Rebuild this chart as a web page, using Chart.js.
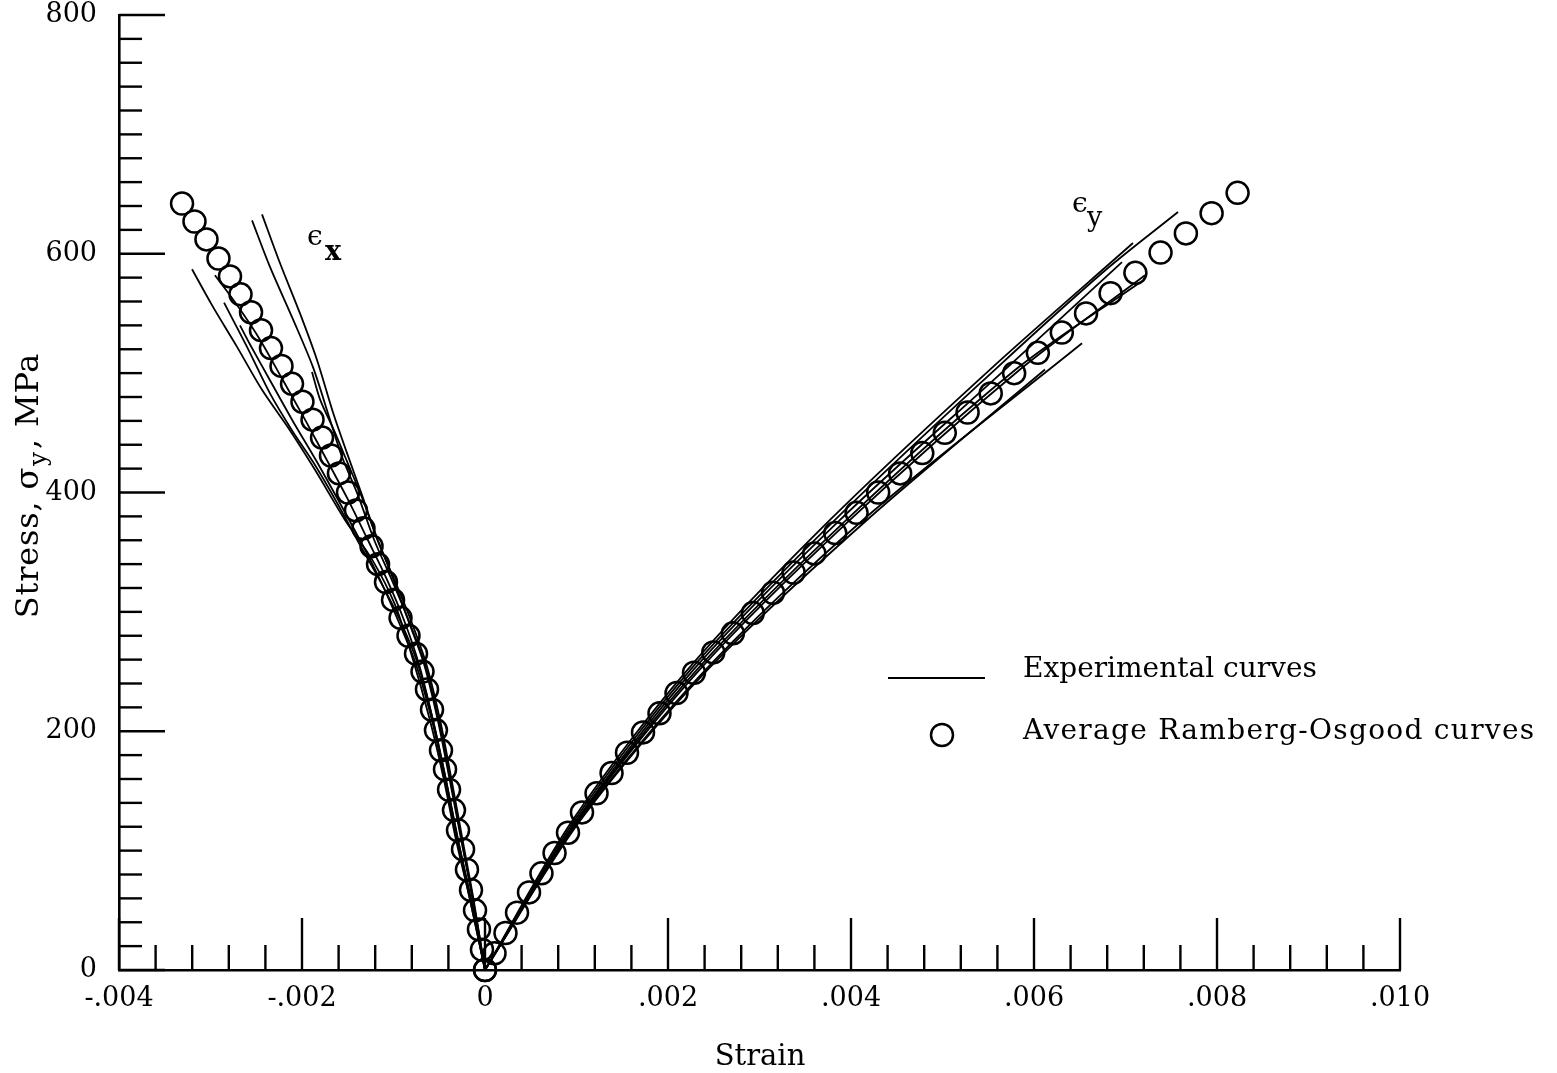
<!DOCTYPE html>
<html>
<head>
<meta charset="utf-8">
<script src="https://cdn.jsdelivr.net/npm/chart.js@4.4.0/dist/chart.umd.min.js"></script>
<style>
  body { margin: 0; background: #fff; }
  #wrap { width: 1557px; height: 1073px; }
</style>
</head>
<body>
<div id="wrap"><canvas id="chart" width="1557" height="1073"></canvas></div>
<script>
// strain is kept in units of 0.001, stress in MPa

// average Ramberg-Osgood curve, eps_x branch (circles)
const roStrainX = [0, -0.033, -0.066, -0.109, -0.153, -0.197, -0.240, -0.295, -0.339, -0.393, -0.437,
  -0.481, -0.536, -0.579, -0.634, -0.683, -0.754, -0.836, -0.923, -1.005, -1.082, -1.169, -1.240,
  -1.328, -1.410, -1.497, -1.596, -1.683, -1.781, -1.885, -1.995, -2.109, -2.224, -2.339, -2.448,
  -2.557, -2.672, -2.787, -2.913, -3.044, -3.175, -3.311];
const roStressX = [0, 17, 34, 50, 67, 84, 101, 117, 134, 151, 168, 184, 201, 218, 235, 250, 265, 280,
  295, 310, 325, 340, 355, 370, 385, 400, 416, 431, 446, 461, 476, 491, 506, 521, 536, 551, 566, 581,
  596, 612, 627, 642];

// average Ramberg-Osgood curve, eps_y branch (circles)
const roStrainY = [0, 0.104, 0.224, 0.350, 0.481, 0.617, 0.760, 0.907, 1.060, 1.219, 1.383, 1.552,
  1.727, 1.907, 2.093, 2.284, 2.495, 2.709, 2.927, 3.148, 3.372, 3.599, 3.828, 4.061, 4.297, 4.537,
  4.779, 5.025, 5.274, 5.527, 5.783, 6.042, 6.304, 6.569, 6.837, 7.108, 7.383, 7.660, 7.941, 8.225];
const roStressY = [0, 14, 31, 48, 65, 81, 98, 115, 132, 148, 165, 182, 199, 215, 232, 249, 266, 282,
  299, 316, 333, 349, 366, 383, 400, 416, 433, 450, 467, 483, 500, 517, 534, 550, 567, 584, 601, 617,
  634, 651];

// experimental curves, eps_x branch
const expStrainX = [
  [0, -0.164, -0.317, -0.448, -0.601, -0.787, -0.984, -1.235, -1.530, -1.858, -2.131, -2.437, -2.710, -2.984, -3.202],
  [0, -0.130, -0.255, -0.375, -0.505, -0.655, -0.835, -1.020, -1.210, -1.390, -1.563, -1.694, -1.880, -2.098, -2.350, -2.546],
  [0, -0.125, -0.245, -0.365, -0.490, -0.640, -0.810, -0.990, -1.175, -1.345, -1.508, -1.661, -1.836, -2.022, -2.240, -2.437],
  [0, -0.153, -0.295, -0.426, -0.568, -0.732, -0.929, -1.126, -1.366, -1.607, -1.858, -2.109, -2.350, -2.601, -2.852],
  [0, -0.135, -0.260, -0.385, -0.515, -0.665, -0.840, -1.020, -1.190, -1.335, -1.508, -1.650, -1.803, -1.891],
  [0, -0.153, -0.295, -0.426, -0.568, -0.721, -0.885, -1.071, -1.279, -1.497, -1.727, -1.967, -2.208, -2.459, -2.710, -2.951],
  [0, -0.164, -0.306, -0.437, -0.579, -0.754, -0.951, -1.148, -1.366, -1.607, -1.847, -2.109, -2.350, -2.568, -2.678]
];
const expStressX = [
  [0, 59, 109, 159, 209, 260, 306, 344, 377, 419, 452, 486, 522, 557, 587],
  [0, 59, 109, 159, 209, 256, 293, 327, 360, 398, 430, 461, 505, 545, 589, 628],
  [0, 59, 109, 159, 209, 256, 293, 327, 360, 398, 433, 467, 511, 550, 592, 633],
  [0, 59, 109, 159, 209, 256, 293, 323, 356, 390, 423, 452, 483, 522, 559],
  [0, 59, 109, 159, 209, 256, 293, 331, 364, 394, 426, 452, 478, 501],
  [0, 59, 109, 159, 209, 256, 293, 327, 360, 394, 427, 461, 494, 528, 557, 582],
  [0, 59, 109, 159, 209, 256, 293, 327, 360, 394, 427, 461, 494, 524, 540]
];

// experimental curves, eps_y branch
const expStrainY = [
  [0, 0.984, 2.240, 3.825, 5.574, 6.776, 7.574],
  [0, 0.962, 2.208, 3.770, 5.519, 7.082],
  [0, 1.005, 2.273, 3.880, 5.683, 6.962],
  [0, 1.027, 2.339, 3.989, 5.847, 7.213],
  [0, 1.016, 2.310, 3.950, 5.800, 7.158],
  [0, 1.038, 2.404, 4.131, 6.525],
  [0, 1.049, 2.426, 4.175, 6.120]
];
const expStressY = [
  [0, 126, 251, 377, 503, 586, 635],
  [0, 126, 251, 377, 503, 609],
  [0, 126, 251, 377, 503, 593],
  [0, 126, 251, 377, 503, 582],
  [0, 126, 251, 377, 503, 576],
  [0, 126, 251, 377, 525],
  [0, 126, 251, 377, 503]
];

// axis ticks
const xMajorTicks = [-4, -2, 0, 2, 4, 6, 8, 10];
const yMajorTicks = [0, 200, 400, 600, 800];
const xMinorStep = 0.4;
const yMinorStep = 20;

const FONT = 'DejaVu Serif';

function toPoints(xs, ys) {
  return xs.map((v, i) => ({ x: v, y: ys[i] }));
}

const datasets = [];
expStrainX.forEach((s, i) => {
  datasets.push({ data: toPoints(s, expStressX[i]), showLine: true, pointRadius: 0,
    borderColor: '#000', borderWidth: 1.8, tension: 0.3, clip: false });
});
expStrainY.forEach((s, i) => {
  datasets.push({ data: toPoints(s, expStressY[i]), showLine: true, pointRadius: 0,
    borderColor: '#000', borderWidth: 1.8, tension: 0.3, clip: false });
});
[[roStrainX, roStressX], [roStrainY, roStressY]].forEach(([s, t]) => {
  datasets.push({ data: toPoints(s, t), showLine: false, pointRadius: 11, pointBorderWidth: 2.5,
    pointBorderColor: '#000', pointBackgroundColor: 'rgba(0,0,0,0)', clip: false });
});

//ticks, legend and labels drawn on top
const decorations = {
  id: 'decorations',
  afterDraw(chart) {
    const { ctx, chartArea } = chart;
    const xs = chart.scales.x, ys = chart.scales.y;
    const left = chartArea.left, bottom = chartArea.bottom;
    ctx.save();
    ctx.strokeStyle = '#000';
    ctx.fillStyle = '#000';
    ctx.lineWidth = 2.4;
    ctx.lineCap = 'butt';

    const nx = Math.round((xMajorTicks[xMajorTicks.length - 1] - xMajorTicks[0]) / xMinorStep);
    for (let i = 0; i <= nx; i++) {
      const v = xMajorTicks[0] + i * xMinorStep;
      const px = xs.getPixelForValue(v);
      const len = i % 5 === 0 ? 52 : 25;
      ctx.beginPath(); ctx.moveTo(px, bottom); ctx.lineTo(px, bottom - len); ctx.stroke();
    }
    const ny = Math.round(yMajorTicks[yMajorTicks.length - 1] / yMinorStep);
    for (let i = 0; i <= ny; i++) {
      const py = ys.getPixelForValue(i * yMinorStep);
      const len = i % 10 === 0 ? 46 : 23;
      ctx.beginPath(); ctx.moveTo(left, py); ctx.lineTo(left + len, py); ctx.stroke();
    }

    // legend
    ctx.lineWidth = 2;
    ctx.beginPath(); ctx.moveTo(888, 678); ctx.lineTo(985, 678); ctx.stroke();
    ctx.lineWidth = 2.5;
    ctx.beginPath(); ctx.arc(942, 735, 11, 0, Math.PI * 2); ctx.stroke();
    ctx.font = '28px "' + FONT + '"';
    ctx.textAlign = 'left';
    ctx.textBaseline = 'middle';
    ctx.fillText('Experimental curves', 1023, 670);
    ctx.letterSpacing = '1.3px';
    ctx.fillText('Average Ramberg-Osgood curves', 1023, 732);
    ctx.letterSpacing = '0px';

    // branch labels
    ctx.textBaseline = 'alphabetic';
    ctx.font = '28px "' + FONT + '"';
    ctx.fillText('\u03f5', 307, 245);
    ctx.fillText('\u03f5', 1072, 212);
    ctx.font = 'bold 27px "' + FONT + '"';
    ctx.fillText('x', 325, 260);
    ctx.font = '27px "' + FONT + '"';
    ctx.fillText('y', 1087, 226);

    // x title
    ctx.font = '29px "' + FONT + '"';
    ctx.textAlign = 'center';
    ctx.fillText('Strain', 760, 1065);

    // y title with subscript
    ctx.translate(38, 486);
    ctx.rotate(-Math.PI / 2);
    ctx.textAlign = 'left';
    ctx.letterSpacing = '0.8px';
    const big = '32px "' + FONT + '"', small = '25px "' + FONT + '"';
    ctx.font = big;
    const p1 = 'Stress, \u03c3', p3 = ', MPa';
    const w1 = ctx.measureText(p1).width, w3 = ctx.measureText(p3).width;
    ctx.font = small;
    const w2 = ctx.measureText('y').width + 2;
    let cx = -(w1 + w2 + w3) / 2;
    ctx.font = big; ctx.fillText(p1, cx, 0); cx += w1 + 1;
    ctx.font = small; ctx.fillText('y', cx, 8); cx += w2;
    ctx.font = big; ctx.fillText(p3, cx, 0);
    ctx.restore();
  }
};

new Chart(document.getElementById('chart'), {
  type: 'scatter',
  data: { datasets: datasets },
  options: {
    responsive: false,
    animation: false,
    layout: { padding: { top: 15, right: 157, left: 0, bottom: 0 } },
    plugins: { legend: { display: false }, tooltip: { enabled: false } },
    scales: {
      x: {
        type: 'linear', min: -4, max: 10,
        afterFit: (s) => { s.height = 103; s.paddingLeft = 0; s.paddingRight = 0; },
        afterBuildTicks: (s) => { s.ticks = xMajorTicks.map(v => ({ value: v })); },
        grid: { display: false, drawTicks: false },
        border: { display: true, color: '#000', width: 2.6 },
        ticks: {
          color: '#000', padding: 13, maxRotation: 0, autoSkip: false,
          font: { family: FONT, size: 27 },
          callback: (v) => v === 0 ? '0' : (v < 0 ? '-' : '') + (Math.abs(v) / 1000).toFixed(3).replace(/^0/, '')
        }
      },
      y: {
        type: 'linear', min: 0, max: 800,
        afterFit: (s) => { s.width = 119; s.paddingTop = 0; s.paddingBottom = 0; },
        afterBuildTicks: (s) => { s.ticks = yMajorTicks.map(v => ({ value: v })); },
        grid: { display: false, drawTicks: false },
        border: { display: true, color: '#000', width: 2.6 },
        ticks: { color: '#000', padding: 22, font: { family: FONT, size: 27 } }
      }
    }
  },
  plugins: [decorations]
});
</script>
</body>
</html>
